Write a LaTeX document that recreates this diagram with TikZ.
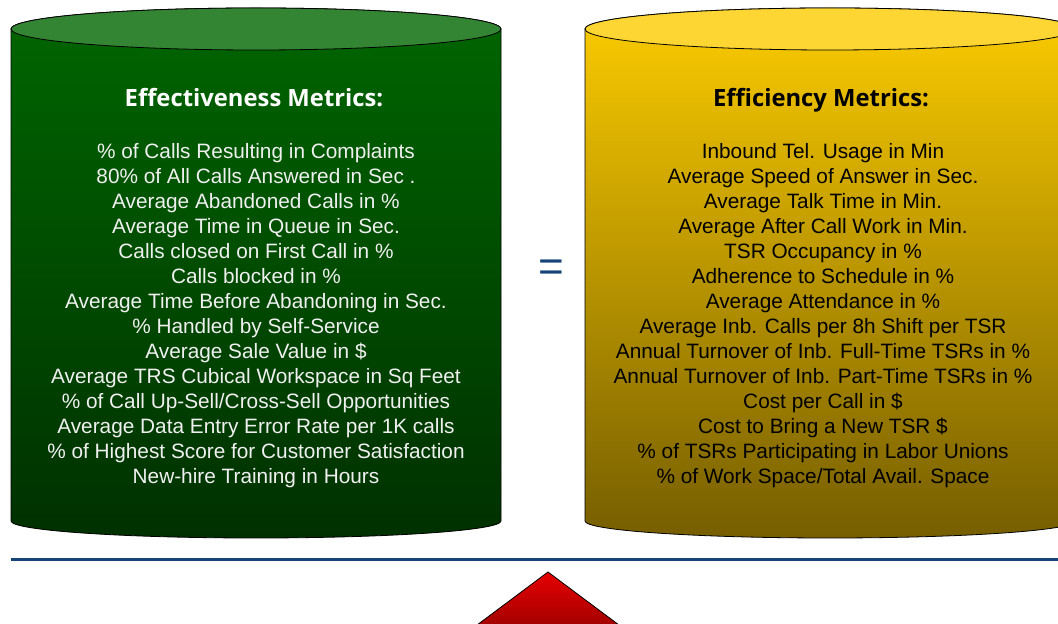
\documentclass[tikz,border=0pt]{standalone}
\usepackage{fontspec}
\setmainfont{Liberation Sans}
\newfontfamily\headfont{Open Sans}

\begin{document}
\begin{tikzpicture}[x=1pt, y=1pt,
    metric/.style={align=center, font=\fontsize{20.8}{25}\selectfont},
    heading/.style={anchor=base, font=\headfont\bfseries\fontsize{23.8}{25}\selectfont},
    rim/.style={draw=black, line width=0.8pt}]


\definecolor{GreenTop}{RGB}{0,102,0}
\definecolor{GreenBottom}{RGB}{0,48,0}
\definecolor{GreenLid}{RGB}{51,133,51}
\definecolor{GoldTop}{RGB}{252,204,0}
\definecolor{GoldBottom}{RGB}{118,94,0}
\definecolor{GoldLid}{RGB}{253,214,51}
\definecolor{RuleBlue}{RGB}{22,68,120}
\colorlet{WhiteText}{white!94!black}

\useasboundingbox (0,0) rectangle (1058,624);
\clip (0,0) rectangle (1058,624);

% Left cylinder
\shadedraw[rim, top color=GreenTop, bottom color=GreenBottom]
    (11,595) -- (11,103)
    arc[start angle=180, end angle=360, x radius=245, y radius=17]
    -- (501,595)
    arc[start angle=0, end angle=180, x radius=245, y radius=21] -- cycle;
\filldraw[rim, fill=GreenLid] (256,595) ellipse[x radius=245, y radius=21];

% Right cylinder (cut by the page edge)
\shadedraw[rim, top color=GoldTop, bottom color=GoldBottom]
    (585,595) -- (585,103)
    arc[start angle=180, end angle=360, x radius=245, y radius=17]
    -- (1075,595)
    arc[start angle=0, end angle=180, x radius=245, y radius=21] -- cycle;
\filldraw[rim, fill=GoldLid] (830,595) ellipse[x radius=245, y radius=21];

% Labels
\node[heading, text=white] (effectTitle) at (254,517) {Effectiveness Metrics:};
\node[metric, text=WhiteText] (effectList) at (256,308) {%
    \% of Calls Resulting in Complaints\\
    80\% of All Calls Answered in Sec .\\
    Average Abandoned Calls in \%\\
    Average Time in Queue in Sec.\\
    Calls closed on First Call in \%\\
    Calls blocked in \%\\
    Average Time Before Abandoning in Sec.\\
    \% Handled by Self-Service\\
    Average Sale Value in \$\\
    Average TRS Cubical Workspace in Sq Feet\\
    \% of Call Up-Sell/Cross-Sell Opportunities\\
    Average Data Entry Error Rate per 1K calls\\
    \% of Highest Score for Customer Satisfaction\\
    New-hire Training in Hours};

\node[heading] (efficTitle) at (821,517) {Efficiency Metrics:};
\node[metric] (efficList) at (823,308) {%
    Inbound Tel. Usage in Min\\
    Average Speed of Answer in Sec.\\
    Average Talk Time in Min.\\
    Average After Call Work in Min.\\
    TSR Occupancy in \%\\
    Adherence to Schedule in \%\\
    Average Attendance in \%\\
    Average Inb. Calls per 8h Shift per TSR\\
    Annual Turnover of Inb. Full-Time TSRs in \%\\
    Annual Turnover of Inb. Part-Time TSRs in \%\\
    Cost per Call in \$\\
    Cost to Bring a New TSR \$\\
    \% of TSRs Participating in Labor Unions\\
    \% of Work Space/Total Avail. Space};

\node[text=RuleBlue, font=\fontsize{44}{44}\selectfont] (equals) at (551,353) {=};

% Balance beam and pivot
\draw[line width=3pt, RuleBlue] (11,64) -- (1058,64);
\shadedraw[rim, top color=red!90!black, bottom color=red!60!black]
    (548,52) -- (631,-10) -- (465,-10) -- cycle;


\end{tikzpicture}
\end{document}
